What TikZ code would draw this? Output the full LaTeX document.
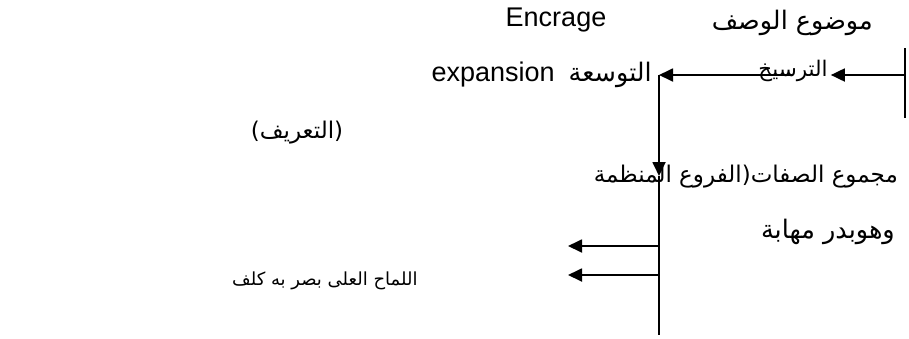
\documentclass[tikz,border=0pt]{standalone}
\usepackage{fontspec}
\setmainfont{Liberation Sans}
\newfontfamily\arabicfont[Script=Arabic]{DejaVu Sans}
\TeXXeTstate=1
\usetikzlibrary{arrows.meta}
\newcommand\arsize[1]{\arabicfont\fontsize{#1}{#1}\selectfont}
\begin{document}
\begin{tikzpicture}[x=1pt,y=-1pt,
  lbl/.style={inner sep=0pt, font=\fontsize{27}{31}\selectfont},
  ar/.style={inner sep=0pt, font=\arsize{#1}},
  ar/.default=23,
  wire/.style={line width=1.8pt},
  tip/.style={wire, -{Triangle[length=14pt,width=13pt]}}]
\fill[white] (0,0) rectangle (909,338);
\useasboundingbox (0,0) rectangle (909,338);

% anchor points of the connectors
\coordinate (rtop) at (905,48);
\coordinate (rbot) at (905,118);
\coordinate (rmid) at (905,75);
\coordinate (vtop) at (659,75);
\coordinate (vmid) at (659,176);
\coordinate (vbot) at (659,335);
\coordinate (b1) at (659,246);
\coordinate (b1e) at (568,246);
\coordinate (b2) at (659,275);
\coordinate (b2e) at (568,275);

% labels
\node[lbl] (encrage) at (556,20) {Encrage};
\node[ar=25.5, anchor=east] (sujet) at (873,23) {\beginR موضوع الوصف\endR};
\node[ar=21.5] (tarsikh) at (793,71) {\beginR الترسيخ\endR};
\node[lbl, anchor=east] (tawsia) at (652,75)
  {\beginR{\arsize{25.5}التوسعة}\hspace{14pt}\beginL expansion\endL\endR};
\node[ar=23] (taarif) at (297,133) {\beginR(التعريف)\endR};
\node[ar=23, anchor=east] (sifat) at (898,177) {\beginR مجموع الصفات(الفروع المنظمة\endR};
\node[ar=25.5, anchor=east] (badr) at (895,232) {\beginR وهوبدر مهابة\endR};
\node[ar=18, anchor=west] (bayt) at (232,281) {\beginR اللماح العلى بصر به كلف\endR};

% connectors
\draw[wire] (rtop) -- (rbot);
\draw[tip] (rmid) -- ([xshift=3pt]tarsikh.east |- rmid);
\draw[tip] (tarsikh.center |- rmid) -- (vtop);
\draw[tip] (vtop) -- (vmid);
\draw[wire] (vmid) -- (vbot);
\draw[tip] (b1) -- (b1e);
\draw[tip] (b2) -- (b2e);
\end{tikzpicture}
\end{document}
